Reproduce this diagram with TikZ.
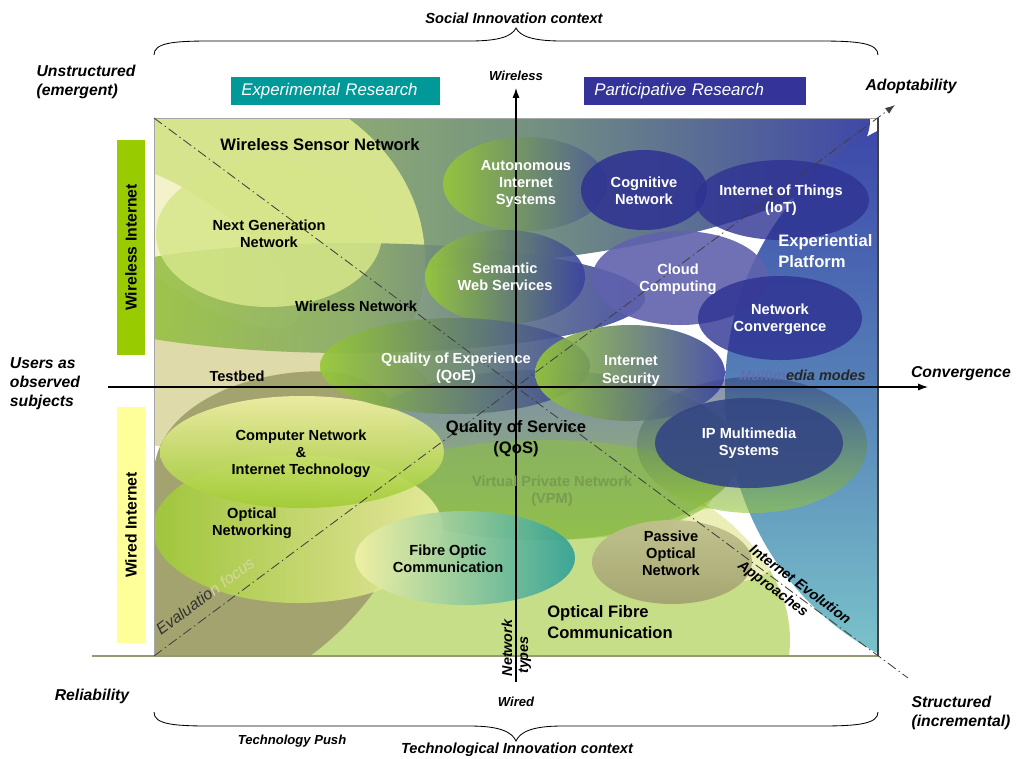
\documentclass[tikz,border=0pt]{standalone}
\usepackage{fontspec}
\setmainfont{Liberation Sans}
\usetikzlibrary{positioning, arrows.meta}

% colours of the map
\definecolor{expteal}{RGB}{0,153,153}
\definecolor{partblue}{RGB}{51,51,153}
\definecolor{wirelessbar}{RGB}{153,204,0}
\definecolor{wiredbar}{RGB}{255,255,153}
\definecolor{backleft}{RGB}{165,195,100}
\definecolor{backmid}{RGB}{118,148,128}
\definecolor{backright}{RGB}{62,70,168}
\definecolor{platblue}{RGB}{58,66,168}
\definecolor{platmid}{RGB}{86,130,184}
\definecolor{platteal}{RGB}{126,202,204}
\definecolor{sensor}{RGB}{214,228,142}
\definecolor{cream}{RGB}{243,242,202}
\definecolor{tan}{RGB}{222,218,170}
\definecolor{olive}{RGB}{163,163,112}
\definecolor{fibre}{RGB}{198,222,136}
\definecolor{pale}{RGB}{236,238,184}
\definecolor{leaf}{RGB}{150,200,56}
\definecolor{ink}{RGB}{58,66,160}
\definecolor{navy}{RGB}{46,50,146}
\definecolor{cloud}{RGB}{96,98,172}
\definecolor{slate}{RGB}{52,70,132}
\definecolor{lemon}{RGB}{242,242,166}
\definecolor{lime}{RGB}{160,204,52}
\definecolor{moss}{RGB}{136,170,104}
\definecolor{qosblue}{RGB}{124,140,172}
\definecolor{qosgreen}{RGB}{152,192,92}
\definecolor{vpn}{RGB}{140,192,64}
\definecolor{vpntext}{RGB}{120,156,80}
\definecolor{sea}{RGB}{46,160,152}
\definecolor{ngn}{RGB}{214,230,138}
\definecolor{fadeblue}{RGB}{96,110,176}
\definecolor{fadeleaf}{RGB}{214,214,160}

\tikzset{
lbl/.style={font=\bfseries\fontsize{10.4}{12.2}\selectfont, align=center, inner sep=0pt}, % text in a bubble
wlbl/.style={lbl, text=white}, % text in a dark bubble
biglbl/.style={font=\bfseries\fontsize{11.8}{15}\selectfont, align=center, inner sep=0pt}, % text of a wide area
side/.style={font=\bfseries\itshape\fontsize{11.2}{13.5}\selectfont, align=left, inner sep=0pt}, % text round the map
context/.style={font=\bfseries\itshape\fontsize{10.4}{12}\selectfont, inner sep=0pt}, % under and over the braces
axislbl/.style={font=\bfseries\itshape\fontsize{9.3}{11}\selectfont, inner sep=0pt}, % ends of the axes
banner/.style={font=\itshape\fontsize{12}{14}\selectfont, text=white, anchor=west, align=left, minimum height=0.7cm, inner xsep=0.25cm, inner ysep=0pt}, % research headers
bar/.style={font=\bfseries\fontsize{11.2}{13}\selectfont, rotate=90, minimum height=0.7cm, inner sep=0pt}, % side bars
axis/.style={line width=0.8pt, -{Latex[length=7pt, width=5pt]}}, % the two axes
diag/.style={line width=0.6pt, black!75, dash pattern=on 7pt off 2.5pt on 1pt off 2.5pt}, % dash-dot diagonals
brace/.style={line width=0.6pt}, % curly brackets
}

\begin{document}
\begin{tikzpicture}[x=0.025cm, y=-0.025cm]
\useasboundingbox (0,0) rectangle (1029,758);

% the bubbles, cut to the square
\begin{scope}
  \clip (154,118) rectangle (878,656);
  \begin{scope}
    \clip (350,120) ellipse [x radius=520, y radius=150];
    \shade[left color=backleft, right color=backright, middle color=backmid] (154,118) rectangle (878,656);
  \end{scope}
  \shade[top color=platblue, bottom color=platteal, middle color=platmid] (995,392) ellipse [x radius=270, y radius=290];
  \fill[sensor] (210,260) ellipse [x radius=215, y radius=185];
  \fill[cream, rotate around={-35:(190,245)}] (190,245) ellipse [x radius=130, y radius=45];
  \fill[tan] (230,390) ellipse [x radius=200, y radius=60];
  \shade[left color=lime, right color=ink, middle color=moss, opacity=0.9] (350,298) ellipse [x radius=295, y radius=55];
  \fill[fibre] (470,640) ellipse [x radius=320, y radius=200];
  \begin{scope}
    \clip (470,640) ellipse [x radius=320, y radius=200];
    \fill[pale] (725,545) ellipse [x radius=60, y radius=38];
  \end{scope}
  \shade[top color=qosblue, bottom color=qosgreen] (540,455) ellipse [x radius=200, y radius=85];
  \fill[olive] (154,470) .. controls (160,400) and (260,366) .. (335,372)
    .. controls (455,392) and (440,560) .. (310,656) -- (154,656) -- cycle;
  \fill[vpn, opacity=0.55] (545,490) ellipse [x radius=170, y radius=50];
  \shade[top color=slate, bottom color=leaf, opacity=0.6] (752,445) ellipse [x radius=115, y radius=68];
  \shade[left color=lime, right color=lemon, opacity=0.85] (298,529) ellipse [x radius=145, y radius=74];
  \shade[top color=lemon, bottom color=lime, opacity=0.9] (302,452) ellipse [x radius=142, y radius=56];
  \fill[ngn, opacity=0.85] (269,234) ellipse [x radius=113, y radius=73];
  \shade[left color=lemon, right color=sea, opacity=0.9] (465,558) ellipse [x radius=110, y radius=47];
  \shade[top color=olive!60!pale, bottom color=olive, opacity=0.95] (672,562) ellipse [x radius=80, y radius=42];
  \shade[left color=leaf, right color=ink!70!backmid, opacity=0.9] (525,184) ellipse [x radius=82, y radius=47];
  \shade[left color=leaf, right color=ink, opacity=0.9] (505,277) ellipse [x radius=80, y radius=47];
  \fill[navy, opacity=0.85] (644,190) ellipse [x radius=63, y radius=40];
  \fill[navy, opacity=0.8] (782,200) ellipse [x radius=87, y radius=40];
  \fill[cloud, opacity=0.9] (680,278) ellipse [x radius=88, y radius=47];
  \fill[navy, opacity=0.8] (780,318) ellipse [x radius=82, y radius=42];
  \shade[left color=leaf, right color=ink, opacity=0.92] (455,366) ellipse [x radius=135, y radius=48];
  \shade[left color=leaf, right color=ink, opacity=0.9] (630,373) ellipse [x radius=95, y radius=48];
  \fill[slate, opacity=0.9] (749,443) ellipse [x radius=94, y radius=45];
\end{scope}

% frame of the square
\draw[gray!70, line width=0.6pt] (154,656) -- (154,118) -- (878,118);
\draw[black!75, line width=0.8pt] (878,118) -- (878,656);
\draw[olive!70!gray, line width=0.8pt] (92,656) -- (878,656);

% axes and diagonals
\coordinate (wiredend) at (516,682);
\coordinate (wirelessend) at (516,88);
\coordinate (userend) at (108,387);
\coordinate (convend) at (928,387);
\coordinate (topleft) at (154,118);
\coordinate (structend) at (908,678);
\coordinate (botleft) at (154,656);
\coordinate (adoptend) at (895,105);
\draw[axis] (wiredend) -- (wirelessend);
\draw[axis] (userend) -- (convend);
\draw[diag] (topleft) -- (structend);
\draw[diag, -{Latex[length=7pt, width=5pt]}] (botleft) -- (adoptend);

% braces
\draw[brace] (154,55) .. controls (154,43) and (172,41) .. (210,41) -- (470,41)
  .. controls (500,41) and (512,36) .. (516,28) .. controls (520,36) and (532,41) .. (562,41)
  -- (820,41) .. controls (858,41) and (878,43) .. (878,55);
\draw[brace] (154,712) .. controls (154,724) and (172,726) .. (210,726) -- (470,726)
  .. controls (500,726) and (512,732) .. (516,741) .. controls (520,732) and (532,726) .. (562,726)
  -- (820,726) .. controls (858,726) and (878,724) .. (878,712);

% headers and side bars
\node[banner, fill=expteal, text width=4.725cm] (experimental) at (231,91) {Experimental Research};
\node[banner, fill=partblue, text width=5.05cm] (participative) at (584,91) {Participative Research};
\node[bar, fill=wirelessbar, minimum width=5.375cm] (wirelessinternet) at (131,247.5) {Wireless Internet};
\node[bar, fill=wiredbar, minimum width=5.9cm] (wiredinternet) at (131,525) {Wired Internet};

% text round the map
\node[context] (social) at (514,18) {Social Innovation context};
\node[context] (technological) at (517,750) {Technological Innovation context};
\node[axislbl] (technologypush) at (292,741) {Technology Push};
\node[side] (unstructured) at (86,82) {Unstructured\\(emergent)};
\node[side] (adoptability) at (911,86) {Adoptability};
\node[side] (users) at (45,384) {Users as\\observed\\subjects};
\node[side] (convergence) at (961,374) {Convergence};
\node[side] (reliability) at (92,696) {Reliability};
\node[side] (structured) at (961,713) {Structured\\(incremental)};
\node[axislbl, above=0.17cm of wirelessend] (wireless) {Wireless};
\node[axislbl, below=0.36cm of wiredend] (wired) {Wired};
\node[axislbl, font=\bfseries\itshape\fontsize{10.2}{12}\selectfont, rotate=90] (network) at (507,648) {Network};
\node[axislbl, font=\bfseries\itshape\fontsize{10.2}{12}\selectfont, rotate=90] (types) at (525,655) {types};

% text in the map
\node[biglbl] (sensornet) at (320,145) {Wireless Sensor Network};
\node[lbl] (nextgen) at (269,234) {Next Generation\\Network};
\node[lbl] (wirelessnet) at (356,306) {Wireless Network};
\node[wlbl] (autonomous) at (526,184) {Autonomous\\Internet\\Systems};
\node[wlbl] (cognitive) at (644,191) {Cognitive\\Network};
\node[wlbl] (iot) at (781,200) {Internet of Things\\(IoT)};
\node[biglbl, text=white, align=left, anchor=west] (experiential) at (778,251) {Experiential\\Platform};
\node[wlbl] (semantic) at (505,277) {Semantic\\Web Services};
\node[wlbl] (cloudcomp) at (678,279) {Cloud\\Computing};
\node[wlbl] (netconv) at (780,319) {Network\\Convergence};
\node[wlbl] (qoe) at (456,368) {Quality of Experience\\(QoE)};
\node[wlbl] (security) at (631,371) {Internet\\Security};
\node[lbl, font=\bfseries\itshape\fontsize{10.3}{12}\selectfont, text=black!85, anchor=east] (multimedia) at (866,375) {\textcolor{fadeblue}{Multim}edia modes};
\node[lbl] (testbed) at (237,376) {Testbed};
\node[biglbl] (qos) at (516,439) {Quality of Service\\(QoS)};
\node[lbl] (computernet) at (301,454) {Computer Network\\\&\\Internet Technology};
\node[wlbl] (ipms) at (749,443) {IP Multimedia\\Systems};
\node[lbl, text=vpntext] (vpm) at (552,491) {Virtual Private Network\\(VPM)};
\node[lbl] (opticalnet) at (252,523) {Optical\\Networking};
\node[lbl] (fibreoptic) at (448,559) {Fibre Optic\\Communication};
\node[lbl] (passive) at (671,553) {Passive\\Optical\\Network};
\node[biglbl, align=left, anchor=west] (opticalfibre) at (547,622) {Optical Fibre\\Communication};
\node[font=\itshape\fontsize{11.4}{13}\selectfont, text=black!80, rotate=36.6, inner sep=0pt] (evaluation) at (205,596) {Evaluatio\textcolor{fadeleaf}{n focus}};
\node[font=\bfseries\itshape\fontsize{10.2}{13.7}\selectfont, rotate=-36.6, align=left, inner sep=0pt] (evolution) at (794,593) {Internet Evolution\\Approaches};
\end{tikzpicture}
\end{document}
